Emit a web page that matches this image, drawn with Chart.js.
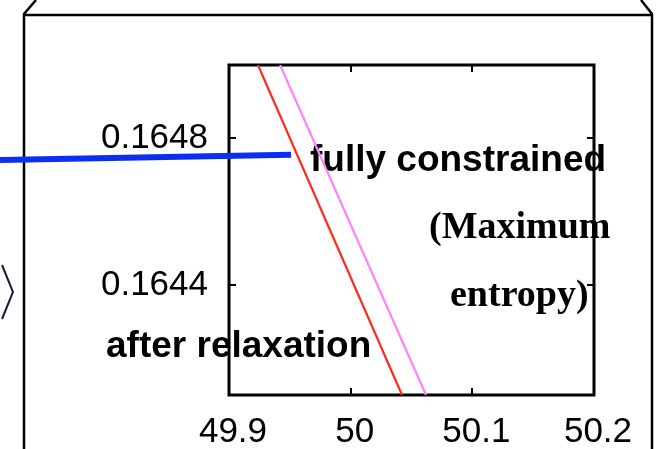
<!DOCTYPE html>
<html lang="en">
<head>
<meta charset="UTF-8">
<title>Relaxation inset</title>
<script src="https://cdn.jsdelivr.net/npm/chart.js"></script>
<style>
  html, body { margin: 0; padding: 0; background: #fff; }
  #wrap { width: 656px; height: 449px; }
</style>
</head>
<body>
<div id="wrap"><canvas id="inset"></canvas></div>
<script>
// axis window and tick values
const xRange = [49.9, 50.2];
const yRange = [0.1641, 0.1650];
const xTicks = [49.9, 50.0, 50.1, 50.2];
const yTicks = [0.1644, 0.1648];

// the two curves, straight over this small window
const relaxedX = [49.9238, 50.0422];
const relaxedY = [0.1650, 0.1641];
const constrainedX = [49.942, 50.0619];
const constrainedY = [0.1650, 0.1641];

// pointer coming in from the main plot on the left
const pointerX = [49.7118, 49.951];
const pointerY = [0.164741, 0.164755];

const SANS = '"Liberation Sans", Arial, sans-serif';
const SERIF = '"Liberation Serif", "Times New Roman", serif';

function toPoints(xs, ys) {
    return xs.map((x, i) => ({ x: x, y: ys[i] }));
}

// frame, ticks, labels and notes, drawn under the curves
const insetFrame = {
    id: 'insetFrame',
    beforeDatasetsDraw(chart) {
        const ctx = chart.ctx;
        const a = chart.chartArea;
        const xs = chart.scales.x;
        const ys = chart.scales.y;
        ctx.save();

        // notes
        ctx.fillStyle = '#000';
        ctx.textAlign = 'left';
        ctx.textBaseline = 'alphabetic';
        ctx.font = 'bold 37px ' + SANS;
        ctx.fillText('fully constrained', 310, 171);
        ctx.fillText('after relaxation', 106, 357);
        ctx.font = 'bold 38px ' + SERIF;
        ctx.fillText('(Maximum', 429, 238);
        ctx.fillText('entropy)', 450, 306);

        // outer callout box
        ctx.strokeStyle = '#000';
        ctx.lineWidth = 2.5;
        ctx.beginPath();
        ctx.moveTo(36, 0);
        ctx.lineTo(24, 14);
        ctx.lineTo(24, 449);
        ctx.moveTo(24, 15);
        ctx.lineTo(652, 15);
        ctx.moveTo(641, 0);
        ctx.lineTo(652, 14);
        ctx.lineTo(652, 449);
        ctx.stroke();

        // angle bracket on the left edge
        ctx.strokeStyle = '#1c1c38';
        ctx.lineWidth = 2;
        ctx.beginPath();
        ctx.moveTo(2, 265);
        ctx.lineTo(13, 292);
        ctx.lineTo(2, 319);
        ctx.stroke();

        // plot border
        ctx.strokeStyle = '#000';
        ctx.lineWidth = 3;
        ctx.strokeRect(a.left, a.top, a.right - a.left, a.bottom - a.top);

        // inward ticks
        ctx.lineWidth = 2;
        ctx.beginPath();
        xTicks.forEach(v => {
            const px = Math.round(xs.getPixelForValue(v));
            ctx.moveTo(px, a.bottom);
            ctx.lineTo(px, a.bottom - 7);
            ctx.moveTo(px, a.top);
            ctx.lineTo(px, a.top + 7);
        });
        yTicks.forEach(v => {
            const py = Math.round(ys.getPixelForValue(v));
            ctx.moveTo(a.left, py);
            ctx.lineTo(a.left + 7, py);
            ctx.moveTo(a.right, py);
            ctx.lineTo(a.right - 7, py);
        });
        ctx.stroke();

        // tick labels
        ctx.fillStyle = '#000';
        ctx.font = '35px ' + SANS;
        ctx.textAlign = 'center';
        xTicks.forEach(v => {
            ctx.fillText(String(+v.toFixed(1)), xs.getPixelForValue(v) + 4, 441.5);
        });
        ctx.textAlign = 'right';
        yTicks.forEach(v => {
            ctx.fillText(v.toFixed(4), 208, ys.getPixelForValue(v) + 10);
        });

        ctx.restore();
    }
};

new Chart(document.getElementById('inset'), {
    type: 'line',
    data: {
        datasets: [
            {
                data: toPoints(pointerX, pointerY),
                borderColor: '#0b2ef2',
                borderWidth: 6,
                borderCapStyle: 'butt',
                pointRadius: 0,
                clip: false
            },
            {
                data: toPoints(relaxedX, relaxedY),
                borderColor: '#ff2a1c',
                borderWidth: 2.2,
                pointRadius: 0
            },
            {
                data: toPoints(constrainedX, constrainedY),
                borderColor: '#ff80ff',
                borderWidth: 2.2,
                pointRadius: 0
            }
        ]
    },
    options: {
        responsive: true,
        maintainAspectRatio: false,
        animation: false,
        layout: { padding: { left: 229, top: 65, right: 62, bottom: 54 } },
        plugins: {
            legend: { display: false },
            tooltip: { enabled: false }
        },
        scales: {
            x: { type: 'linear', min: xRange[0], max: xRange[1], display: false },
            y: { type: 'linear', min: yRange[0], max: yRange[1], display: false }
        }
    },
    plugins: [insetFrame]
});
</script>
</body>
</html>
